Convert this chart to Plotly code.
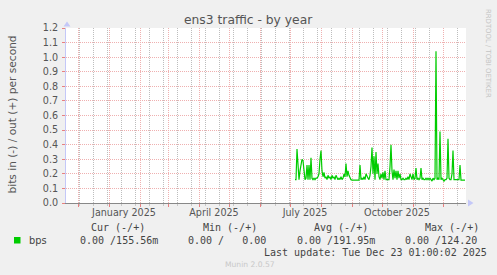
import pandas as pd
import plotly.graph_objects as go

# ---------------- data ----------------
title = "ens3 traffic - by year"
y_title = "bits in (-) / out (+) per second"
series_name = "bps"
series_color = "#00CC00"
first_day = "2025-07-06"          # first daily sample
out_bps = [
    0.16, 0.16, 0.37, 0.25, 0.16, 0.22, 0.28, 0.30, 0.29, 0.20,   # Jul 6 ..
    0.16, 0.17, 0.26, 0.16, 0.26, 0.16, 0.31, 0.17, 0.16, 0.17,
    0.16, 0.17, 0.17, 0.18, 0.20, 0.30, 0.36, 0.22, 0.18, 0.21,
    0.17, 0.18, 0.16, 0.19, 0.17, 0.18, 0.16, 0.19, 0.17, 0.18,
    0.16, 0.19, 0.17, 0.16, 0.17, 0.16, 0.18, 0.16, 0.17, 0.20,
    0.18, 0.27, 0.18, 0.22, 0.19, 0.17, 0.16, 0.157, 0.157, 0.157,
    0.157, 0.157, 0.157, 0.157, 0.157, 0.26, 0.16, 0.17, 0.16, 0.18,
    0.16, 0.20, 0.18, 0.17, 0.16, 0.19, 0.25, 0.38, 0.20, 0.32,
    0.16, 0.35, 0.20, 0.27, 0.18, 0.16, 0.20, 0.17, 0.21, 0.16,
    0.22, 0.16, 0.16, 0.16, 0.16, 0.25, 0.40, 0.22, 0.16, 0.23,
    0.17, 0.22, 0.16, 0.22, 0.17, 0.20, 0.16, 0.16, 0.17, 0.16,
    0.16, 0.17, 0.16, 0.18, 0.16, 0.20, 0.17, 0.16, 0.20, 0.16,
    0.17, 0.24, 0.16, 0.17, 0.16, 0.17, 0.24, 0.16, 0.17, 0.16,
    0.16, 0.17, 0.16, 0.17, 0.16, 0.17, 0.16, 0.15, 0.17, 0.16,
    0.17, 1.04, 0.16, 0.17, 0.16, 0.49, 0.16, 0.17, 0.16, 0.15,
    0.16, 0.16, 0.17, 0.44, 0.17, 0.16, 0.16, 0.20, 0.36, 0.16,
    0.16, 0.16, 0.16, 0.16, 0.16, 0.26, 0.157, 0.157, 0.157, 0.157,
    0.157,
]
dates = pd.date_range(first_day, periods=len(out_bps), freq="D")

x_range = ["2024-11-19", "2025-12-24"]
y_range = [0, 1.2]
month_label_dates = ["2025-01-16", "2025-04-16", "2025-07-16", "2025-10-16"]
month_label_text = ["January 2025", "April 2025", "July 2025", "October 2025"]

legend_headers = ["Cur (-/+)", "Min (-/+)", "Avg (-/+)", "Max (-/+)"]
legend_values = ["0.00 /155.56m", "0.00 /   0.00", "0.00 /191.95m", "0.00 /124.20"]
last_update = "Last update: Tue Dec 23 01:00:02 2025"
munin_version = "Munin 2.0.57"
side_text = "RRDTOOL / TOBI OETIKER"

# ---------------- layout geometry ----------------
W, H = 497, 275
L, R, T, B = 66, 466, 28, 203


def px(x):
    return (x - L) / (R - L)


def py(y):
    return (B - y) / (B - T)


SANS = "DejaVu Sans"
MONO = "DejaVu Sans Mono"
TXT = "#555555"
LEG = "#444444"
RED_GRID = "#EFB0B0"
GREY_GRID = "#BDBDBD"
AXIS_BLUE = "#C4C8F8"
nb = "\u00a0"
DAY_MS = 86400000

fig = go.Figure()
fig.add_trace(go.Scatter(
    x=dates, y=out_bps, mode="lines",
    line=dict(color=series_color, width=1.2),
    hoverinfo="skip", showlegend=False,
))
# carriers for the overlay axes (labels / monthly grid)
fig.add_trace(go.Scatter(x=[None], y=[None], xaxis="x2", showlegend=False,
                         hoverinfo="skip"))
fig.add_trace(go.Scatter(x=[None], y=[None], xaxis="x3", showlegend=False,
                         hoverinfo="skip"))

fig.update_layout(
    width=W, height=H,
    margin=dict(l=L, r=W - R, t=T, b=H - B, pad=0),
    paper_bgcolor="#F0F0F0", plot_bgcolor="white",
    showlegend=False,
    # biweekly grey minor grid
    xaxis=dict(
        type="date", range=x_range,
        tick0="2024-12-02", dtick=14 * DAY_MS,
        showticklabels=False,
        showgrid=True, gridcolor=GREY_GRID, griddash="1px,1px", gridwidth=1,
        ticks="outside", ticklen=2, tickcolor="#C8C8C8",
        showline=True, linecolor="#888888", linewidth=1,
        zeroline=False, fixedrange=True,
    ),
    # quarter labels at mid-month
    xaxis2=dict(
        type="date", range=x_range, overlaying="x", anchor="y", side="bottom",
        tickmode="array", tickvals=month_label_dates, ticktext=month_label_text,
        showgrid=False, ticks="", showline=False, zeroline=False,
        tickfont=dict(family=SANS, size=9.6, color=TXT),
        ticklabelstandoff=2, fixedrange=True,
    ),
    # monthly red major grid
    xaxis3=dict(
        type="date", range=x_range, overlaying="x", anchor="y", side="bottom",
        tick0="2024-12-01", dtick="M1", showticklabels=False,
        showgrid=True, gridcolor=RED_GRID, griddash="1px,1px", gridwidth=1,
        ticks="outside", ticklen=3, tickcolor="#E88080",
        showline=False, zeroline=False, fixedrange=True,
    ),
    yaxis=dict(
        range=y_range, tick0=0, dtick=0.1, tickformat=".1f",
        showgrid=True, gridcolor=RED_GRID, griddash="1px,1px", gridwidth=1,
        ticks="outside", ticklen=3, tickcolor="#E88080",
        tickfont=dict(family=SANS, size=9.6, color=TXT),
        ticklabelstandoff=2,
        showline=True, linecolor=AXIS_BLUE, linewidth=1,
        zeroline=False, fixedrange=True,
    ),
)

shapes = [
    # arrow at top of y axis
    dict(type="path", xref="paper", yref="paper",
         path=f"M {px(67)},{py(21.5)} L {px(63.5)},{py(26.5)} L {px(70.5)},{py(26.5)} Z",
         fillcolor=AXIS_BLUE, line=dict(width=0)),
    # arrow at right of x axis
    dict(type="path", xref="paper", yref="paper",
         path=f"M {px(473.5)},{py(203)} L {px(468)},{py(199.5)} L {px(468)},{py(206.5)} Z",
         fillcolor=AXIS_BLUE, line=dict(width=0)),
    # legend colour square
    dict(type="rect", xref="paper", yref="paper",
         x0=px(14), x1=px(20.5), y0=py(243.5), y1=py(237),
         fillcolor=series_color, line=dict(width=0)),
]
fig.update_layout(shapes=shapes)


def ann(text, x, y, font, size, color, xanchor="left", angle=0):
    fig.add_annotation(text=text, x=px(x), y=py(y), xref="paper", yref="paper",
                       xanchor=xanchor, yanchor="middle", showarrow=False,
                       textangle=angle,
                       font=dict(family=font, size=size, color=color))


ann(title, 248, 19.5, SANS, 12.3, TXT, xanchor="center")
ann(y_title, 11, 114.5, SANS, 10.6, TXT, xanchor="center", angle=-90)
ann(side_text, 488.5, 53.5, SANS, 6.9, "#C4C4C4", xanchor="center", angle=90)

ann(series_name, 27, 240, SANS, 9.8, LEG)
header_x = [89, 201, 312, 423]
value_x = [78, 186, 295, 403]
for hx, htxt in zip(header_x, legend_headers):
    ann(htxt.replace(" ", nb), hx, 227, MONO, 10, LEG)
for vx, vtxt in zip(value_x, legend_values):
    ann(vtxt.replace(" ", nb), vx, 240, MONO, 10, LEG)
ann(last_update.replace(" ", nb), 262, 252.5, MONO, 10, LEG)
ann(munin_version, 223, 264, SANS, 7.6, "#C8C8C8")

fig.write_html("out.html")
